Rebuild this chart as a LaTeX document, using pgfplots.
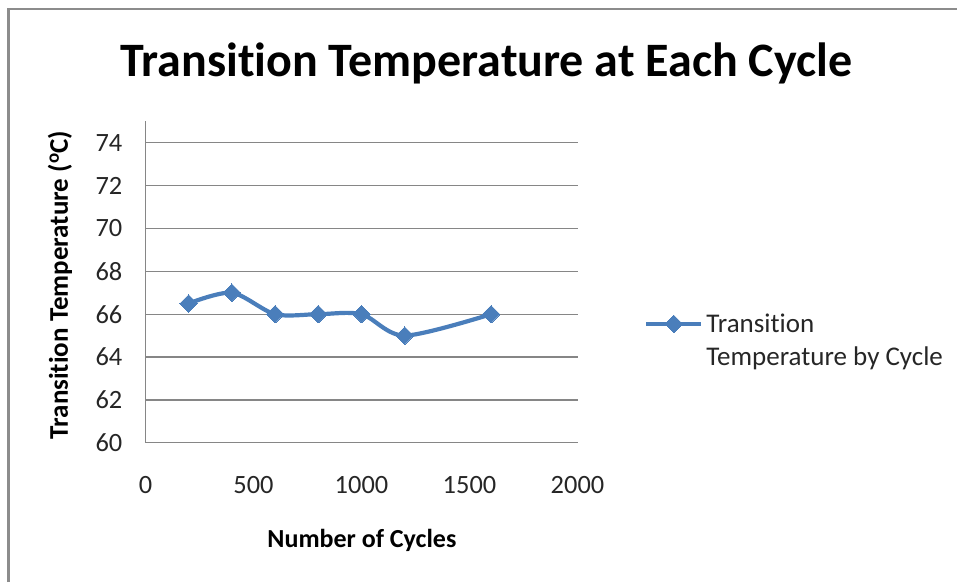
\documentclass[border=0pt]{standalone}
\usepackage{pgfplots}
\pgfplotsset{compat=1.18}
\usepackage{fontspec}
\setmainfont{Carlito}[Ligatures=NoCommon]
\definecolor{serblue}{HTML}{4A7EBB}
\definecolor{gridgray}{HTML}{868686}
\definecolor{framegray}{HTML}{8C8C8C}
\begin{document}
\begin{tikzpicture}[x=1pt,y=1pt]
\path[use as bounding box] (0,0) rectangle (957,582);
\draw[framegray, line width=2.5pt] (8.5,0) -- (8.5,573) -- (957,573);
\begin{axis}[
  scale only axis, width=432pt, height=321.3pt,
  at={(145.5pt,139.3pt)}, anchor=south west,
  xmin=0, xmax=2000, ymin=60, ymax=75,
  xtick={0,500,1000,1500,2000}, ytick={60,62,...,74},
  axis x line*=bottom, axis y line*=left,
  axis line style={-, draw=gridgray, line width=1.3pt},
  major tick length=0pt,
  ymajorgrids, grid style={gridgray, line width=1.3pt},
  tick label style={font=\fontsize{26.4}{30}\selectfont, text=black!85},
  /pgf/number format/assume math mode=true,
  /pgf/number format/set thousands separator={},
  xticklabel style={anchor=base, yshift=-51pt, inner sep=0pt},
  yticklabel style={anchor=east, xshift=-23pt, inner sep=0pt},
  title={Transition Temperature at Each Cycle},
  title style={at={(axis description cs:0.789,1.12)}, anchor=base, font=\fontsize{48}{54}\selectfont\bfseries, inner sep=0pt},
  xlabel={Number of Cycles},
  xlabel style={at={(axis description cs:0.501,-0.3028)}, anchor=center, font=\fontsize{26}{30}\selectfont\bfseries, inner sep=0pt},
  ylabel={Transition Temperature (\textsuperscript{o}C)},
  ylabel style={at={(axis description cs:-0.198,0.491)}, anchor=center, rotate=0, font=\fontsize{27}{30}\selectfont\bfseries, inner sep=0pt},
  legend style={at={(axis description cs:1.154,0.4205)}, anchor=north west, draw=none, fill=none, inner sep=0pt,
    cells={anchor=base west}, column sep=1pt,
    font=\fontsize{27}{33}\selectfont, text=black!85},
  legend image code/.code={\draw[mark repeat=2,mark phase=2,#1] plot coordinates {(0pt,9pt) (27.5pt,9pt) (55pt,9pt)};},
]
\addplot[serblue, line width=4.2pt, smooth, tension=0.5, mark=square*, mark size=6.2pt,
  mark options={rotate=45, solid, line width=0pt, fill=serblue}]
  coordinates {(200,66.5) (400,67) (600,66) (800,66) (1000,66) (1200,65) (1600,66)};
\addlegendentry{\begin{tabular}[t]{@{}l@{}}Transition\\Temperature by Cycle\end{tabular}}
\end{axis}
\end{tikzpicture}
\end{document}
